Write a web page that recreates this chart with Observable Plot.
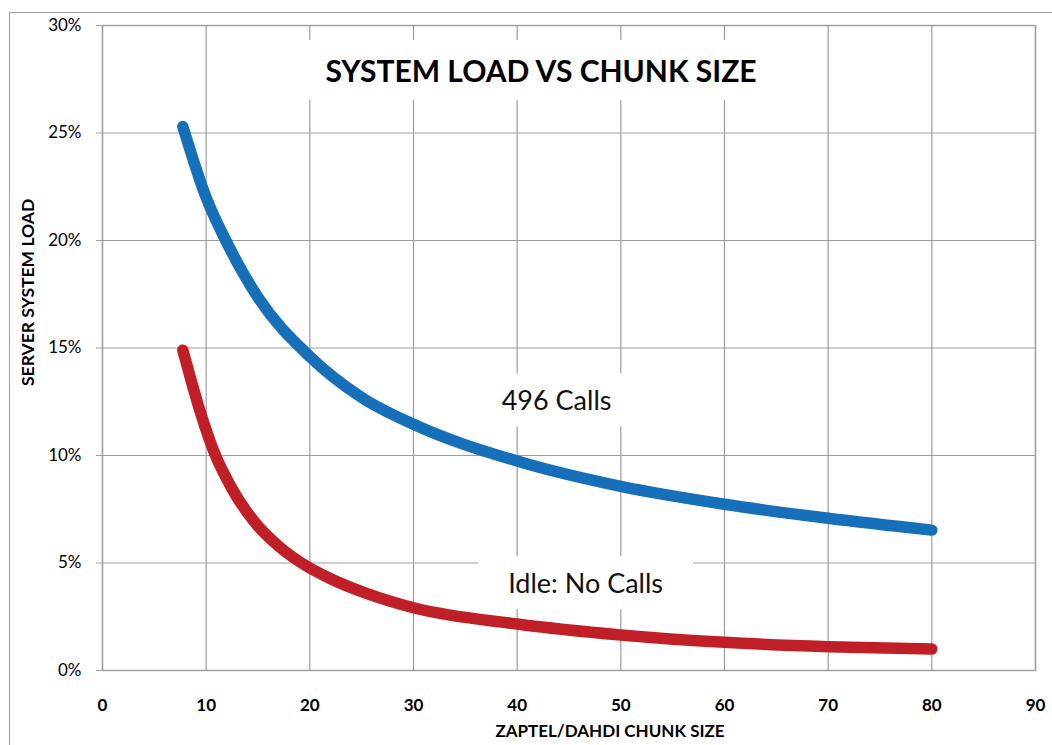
<!DOCTYPE html>
<html>
<head>
<meta charset="utf-8">
<script src="https://cdn.jsdelivr.net/npm/d3@7"></script>
<script src="https://cdn.jsdelivr.net/npm/@observablehq/plot@0.6"></script>
<style>
  html, body { margin: 0; padding: 0; background: #fff; overflow: hidden; }
  #wrap { position: relative; width: 1052px; height: 745px; }
  #border { position: absolute; left: 9px; top: 12px; width: 2000px; height: 2000px;
            border-left: 1.5px solid #a0a0a0; border-top: 1.5px solid #a0a0a0; }
  #chart { position: absolute; left: 0; top: 0; }
</style>
</head>
<body>
<div id="wrap"><div id="border"></div><div id="chart"></div></div>
<script>
// ---- data ----
const chunkSizeCalls = [7.75, 10, 12, 15, 20, 25, 30, 40, 50, 60, 70, 80];
const load496Calls   = [25.3, 22.0, 19.9, 17.35, 14.6, 12.7, 11.45, 9.74, 8.56, 7.73, 7.08, 6.53];
const chunkSizeIdle  = [7.75, 8.6, 9.45, 10.73, 12.5, 14.6, 17, 19.2, 22, 25.4, 30, 40, 50, 60, 70, 80];
const loadIdle       = [14.9, 13.4, 12.0, 10.2, 8.45, 6.95, 5.78, 5.0, 4.27, 3.6, 2.92, 2.16, 1.65, 1.31, 1.11, 1.0];
const xTicks = [0, 10, 20, 30, 40, 50, 60, 70, 80, 90];
const yTicks = [0, 5, 10, 15, 20, 25, 30];
const titleText = "SYSTEM LOAD VS CHUNK SIZE";
const xTitle = "ZAPTEL/DAHDI CHUNK SIZE";
const yTitle = "SERVER SYSTEM LOAD";
const seriesLabels = [
  {text: "496 Calls", x: 43.8, y: 12.5},
  {text: "Idle: No Calls", x: 46.6, y: 4.0}
];

const blueRows = chunkSizeCalls.map((x, i) => ({x, y: load496Calls[i]}));
const redRows = chunkSizeIdle.map((x, i) => ({x, y: loadIdle[i]}));
const gridColor = "#9d9d9d";

const svg = Plot.plot({
  width: 1052,
  height: 745,
  marginLeft: 102,
  marginRight: 17,
  marginTop: 25,
  marginBottom: 75,
  style: {fontFamily: "Lato", fontSize: "17px", color: "#000", background: "transparent"},
  x: {domain: [0, 90]},
  y: {domain: [0, 30]},
  marks: [
    Plot.gridX(xTicks, {stroke: gridColor, strokeOpacity: 1, strokeWidth: 1.2}),
    Plot.gridY(yTicks, {stroke: gridColor, strokeOpacity: 1, strokeWidth: 1.2}),
    Plot.frame({stroke: gridColor, strokeWidth: 1.4}),
    Plot.axisY(yTicks, {tickSize: 6, tickPadding: 15, stroke: gridColor, tickFormat: d => d + "%",
      fontSize: 17, label: null}),
    Plot.axisX(xTicks, {tickSize: 0, tickPadding: 28, fontSize: 17, fontWeight: "bold", label: null}),
    Plot.text([titleText], {frameAnchor: "top", text: d => d, dx: -28, dy: 47, lineAnchor: "middle",
      fontSize: 30, fontWeight: "bold", fill: "#000", ariaDescription: "boxed-title"}),
    Plot.text(seriesLabels, {x: "x", y: "y", text: "text", lineAnchor: "middle",
      fontSize: 27, fill: "#111", ariaDescription: "boxed-label"}),
    Plot.text([xTitle], {frameAnchor: "bottom", text: d => d, dx: 41, dy: 61, lineAnchor: "middle",
      fontSize: 17, fontWeight: "bold", fill: "#000"}),
    Plot.text([yTitle], {frameAnchor: "left", text: d => d, rotate: -90, dx: -74, dy: 38, lineAnchor: "middle",
      fontSize: 17.5, fontWeight: "bold", fill: "#000"}),
    Plot.line(blueRows, {x: "x", y: "y", stroke: "#1670b9", strokeWidth: 11.5, curve: "monotone-x",
      strokeLinecap: "round", strokeLinejoin: "round"}),
    Plot.line(redRows, {x: "x", y: "y", stroke: "#c11f28", strokeWidth: 11.5, curve: "monotone-x",
      strokeLinecap: "round", strokeLinejoin: "round"})
  ]
});
document.getElementById("chart").append(svg);

// white boxes behind the in-plot texts (they interrupt the grid as in the reference)
function boxes(selector, padX, padY) {
  svg.querySelectorAll(selector + " text").forEach(t => {
    const b = t.getBBox();
    const r = document.createElementNS("http://www.w3.org/2000/svg", "rect");
    r.setAttribute("x", b.x - padX);
    r.setAttribute("y", b.y - padY);
    r.setAttribute("width", b.width + 2 * padX);
    r.setAttribute("height", b.height + 2 * padY);
    r.setAttribute("fill", "white");
    r.setAttribute("stroke", "none");
    const tr = t.getAttribute("transform");
    if (tr) r.setAttribute("transform", tr);
    t.parentNode.insertBefore(r, t);
  });
}
boxes('g[aria-description="boxed-title"]', 18, 12);
boxes('g[aria-description="boxed-label"]', 30, 10);
</script>
</body>
</html>
